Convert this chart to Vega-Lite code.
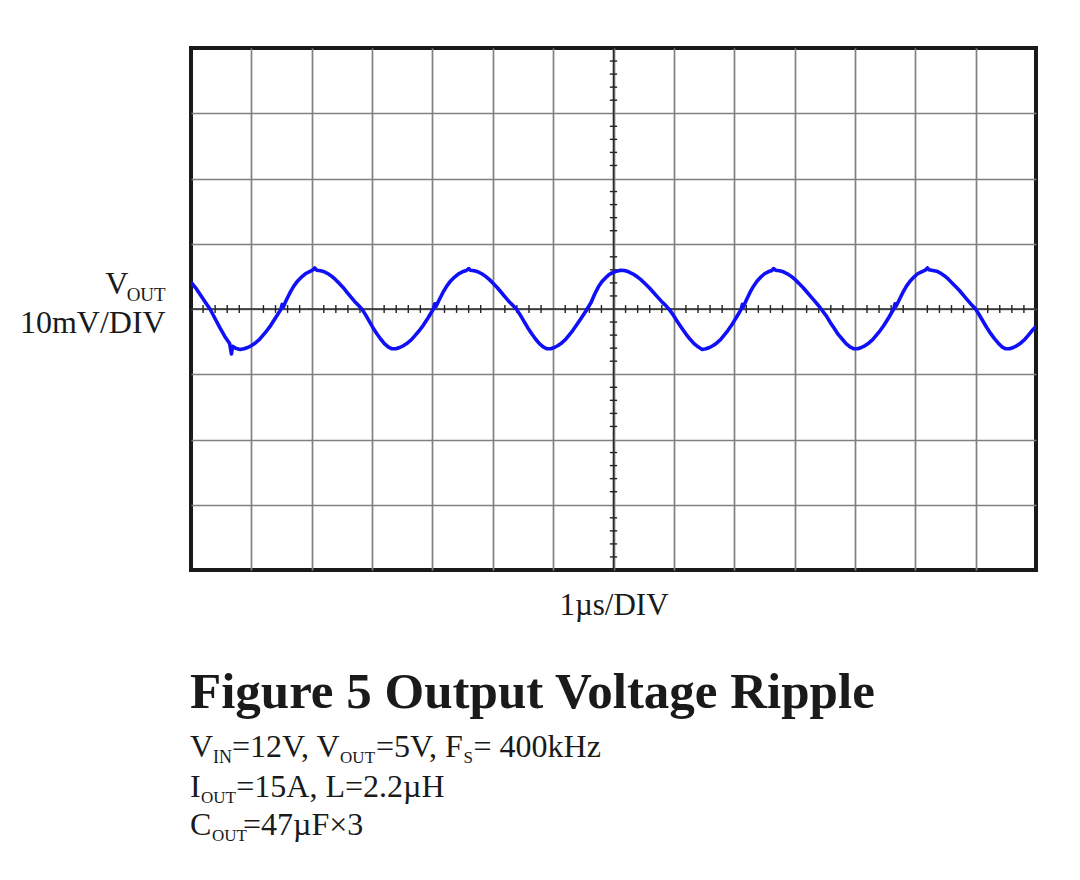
{
  "$schema": "https://vega.github.io/schema/vega-lite/v6.json",
  "width": 845,
  "height": 522,
  "autosize": {"type": "none"},
  "padding": {"left": 191, "top": 48, "right": 44, "bottom": 310},
  "background": "white",
  "config": {
    "view": {"stroke": "#1a1a1a", "strokeWidth": 4},
    "axis": {"grid": true, "gridColor": "#808080", "gridWidth": 1.7, "labels": false, "ticks": false, "domain": false}
  },
  "datasets": {
    "trace": [
      {"t":0.000,"v":4.1},{"t":0.080,"v":3.2},{"t":0.160,"v":2.1},{"t":0.240,"v":1.0},{"t":0.315,"v":0.0},{"t":0.400,"v":-1.5},{"t":0.480,"v":-2.9},{"t":0.560,"v":-4.2},{"t":0.640,"v":-5.3},{"t":0.670,"v":-6.9},{"t":0.690,"v":-5.7},{"t":0.740,"v":-6.0},{"t":0.813,"v":-6.2},
      {"t":0.877,"v":-6.1},{"t":0.940,"v":-5.9},{"t":1.004,"v":-5.6},{"t":1.067,"v":-5.2},{"t":1.131,"v":-4.7},{"t":1.195,"v":-4.0},{"t":1.258,"v":-3.3},{"t":1.322,"v":-2.5},{"t":1.404,"v":-1.3},{"t":1.487,"v":-0.1},{"t":1.510,"v":0.7},{"t":1.530,"v":0.3},{"t":1.576,"v":1.3},{"t":1.640,"v":2.5},{"t":1.703,"v":3.5},{"t":1.767,"v":4.3},{"t":1.831,"v":4.9},{"t":1.894,"v":5.4},{"t":1.958,"v":5.7},{"t":2.021,"v":6.0},{"t":2.050,"v":6.3},{"t":2.085,"v":5.95},
      {"t":2.147,"v":5.85},{"t":2.209,"v":5.7},{"t":2.271,"v":5.4},{"t":2.334,"v":5.0},{"t":2.396,"v":4.5},{"t":2.458,"v":3.9},{"t":2.520,"v":3.3},{"t":2.582,"v":2.6},{"t":2.644,"v":1.9},{"t":2.707,"v":1.2},{"t":2.769,"v":0.6},{"t":2.831,"v":0.0},{"t":2.893,"v":-0.9},{"t":2.955,"v":-1.9},{"t":3.017,"v":-2.9},{"t":3.079,"v":-3.8},{"t":3.142,"v":-4.6},{"t":3.204,"v":-5.3},{"t":3.266,"v":-5.8},{"t":3.328,"v":-6.1},
      {"t":3.393,"v":-6.1},{"t":3.458,"v":-5.9},{"t":3.523,"v":-5.6},{"t":3.588,"v":-5.2},{"t":3.653,"v":-4.7},{"t":3.718,"v":-4.0},{"t":3.783,"v":-3.3},{"t":3.848,"v":-2.5},{"t":3.932,"v":-1.3},{"t":4.016,"v":0.0},{"t":4.040,"v":0.8},{"t":4.060,"v":0.4},{"t":4.107,"v":1.3},{"t":4.172,"v":2.5},{"t":4.237,"v":3.5},{"t":4.302,"v":4.3},{"t":4.367,"v":4.9},{"t":4.432,"v":5.4},{"t":4.497,"v":5.7},{"t":4.562,"v":5.9},{"t":4.600,"v":6.2},{"t":4.627,"v":5.95},
      {"t":4.691,"v":5.85},{"t":4.754,"v":5.7},{"t":4.818,"v":5.4},{"t":4.881,"v":5.0},{"t":4.945,"v":4.5},{"t":5.009,"v":3.9},{"t":5.072,"v":3.3},{"t":5.136,"v":2.6},{"t":5.199,"v":1.9},{"t":5.263,"v":1.2},{"t":5.327,"v":0.6},{"t":5.390,"v":0.0},{"t":5.454,"v":-0.9},{"t":5.517,"v":-1.9},{"t":5.581,"v":-2.9},{"t":5.645,"v":-3.8},{"t":5.708,"v":-4.6},{"t":5.772,"v":-5.3},{"t":5.835,"v":-5.8},{"t":5.899,"v":-6.1},
      {"t":5.960,"v":-6.1},{"t":6.021,"v":-5.9},{"t":6.081,"v":-5.6},{"t":6.142,"v":-5.2},{"t":6.203,"v":-4.7},{"t":6.264,"v":-4.0},{"t":6.324,"v":-3.3},{"t":6.385,"v":-2.5},{"t":6.464,"v":-1.4},{"t":6.543,"v":-0.3},{"t":6.628,"v":1.0},{"t":6.689,"v":2.3},{"t":6.750,"v":3.4},{"t":6.810,"v":4.2},{"t":6.871,"v":4.8},{"t":6.932,"v":5.3},{"t":6.993,"v":5.6},{"t":7.053,"v":5.8},{"t":7.114,"v":5.95},
      {"t":7.182,"v":5.9},{"t":7.250,"v":5.7},{"t":7.317,"v":5.4},{"t":7.385,"v":5.0},{"t":7.453,"v":4.5},{"t":7.521,"v":3.9},{"t":7.588,"v":3.3},{"t":7.656,"v":2.6},{"t":7.724,"v":1.9},{"t":7.792,"v":1.2},{"t":7.859,"v":0.6},{"t":7.927,"v":-0.1},{"t":7.995,"v":-1.0},{"t":8.063,"v":-2.0},{"t":8.130,"v":-2.9},{"t":8.198,"v":-3.8},{"t":8.266,"v":-4.6},{"t":8.334,"v":-5.3},{"t":8.401,"v":-5.8},{"t":8.469,"v":-6.2},
      {"t":8.530,"v":-6.1},{"t":8.591,"v":-5.9},{"t":8.651,"v":-5.6},{"t":8.712,"v":-5.2},{"t":8.773,"v":-4.7},{"t":8.834,"v":-4.0},{"t":8.894,"v":-3.3},{"t":8.955,"v":-2.5},{"t":9.034,"v":-1.3},{"t":9.113,"v":-0.1},{"t":9.135,"v":0.7},{"t":9.150,"v":0.3},{"t":9.198,"v":1.3},{"t":9.259,"v":2.5},{"t":9.320,"v":3.5},{"t":9.380,"v":4.3},{"t":9.441,"v":4.9},{"t":9.502,"v":5.4},{"t":9.563,"v":5.7},{"t":9.623,"v":5.9},{"t":9.650,"v":6.2},{"t":9.685,"v":5.95},
      {"t":9.750,"v":5.85},{"t":9.815,"v":5.7},{"t":9.880,"v":5.4},{"t":9.945,"v":5.0},{"t":10.010,"v":4.5},{"t":10.074,"v":3.9},{"t":10.139,"v":3.3},{"t":10.204,"v":2.6},{"t":10.269,"v":1.9},{"t":10.334,"v":1.2},{"t":10.399,"v":0.5},{"t":10.464,"v":-0.3},{"t":10.529,"v":-1.1},{"t":10.594,"v":-2.1},{"t":10.659,"v":-3.0},{"t":10.723,"v":-3.9},{"t":10.788,"v":-4.6},{"t":10.853,"v":-5.3},{"t":10.918,"v":-5.8},{"t":10.983,"v":-6.1},
      {"t":11.045,"v":-6.1},{"t":11.107,"v":-5.9},{"t":11.170,"v":-5.6},{"t":11.232,"v":-5.2},{"t":11.294,"v":-4.7},{"t":11.356,"v":-4.0},{"t":11.418,"v":-3.3},{"t":11.481,"v":-2.5},{"t":11.561,"v":-1.3},{"t":11.642,"v":0.0},{"t":11.665,"v":0.8},{"t":11.680,"v":0.4},{"t":11.729,"v":1.3},{"t":11.792,"v":2.5},{"t":11.854,"v":3.5},{"t":11.916,"v":4.3},{"t":11.978,"v":4.9},{"t":12.040,"v":5.4},{"t":12.103,"v":5.7},{"t":12.165,"v":5.95},{"t":12.200,"v":6.3},{"t":12.227,"v":6.0},
      {"t":12.291,"v":5.9},{"t":12.354,"v":5.8},{"t":12.418,"v":5.5},{"t":12.481,"v":5.1},{"t":12.545,"v":4.6},{"t":12.609,"v":4.0},{"t":12.672,"v":3.4},{"t":12.736,"v":2.8},{"t":12.799,"v":2.1},{"t":12.863,"v":1.4},{"t":12.927,"v":0.7},{"t":12.990,"v":0.1},{"t":13.054,"v":-0.8},{"t":13.117,"v":-1.8},{"t":13.181,"v":-2.8},{"t":13.245,"v":-3.7},{"t":13.308,"v":-4.5},{"t":13.372,"v":-5.2},{"t":13.435,"v":-5.8},{"t":13.499,"v":-6.1},
      {"t":13.561,"v":-6.1},{"t":13.624,"v":-5.9},{"t":13.686,"v":-5.6},{"t":13.749,"v":-5.2},{"t":13.811,"v":-4.7},{"t":13.874,"v":-4.0},{"t":13.936,"v":-3.3},{"t":14.000,"v":-2.7}
    ],
    "xticks": [
      {"p":0.2},{"p":0.4},{"p":0.6},{"p":0.8},{"p":1.2},{"p":1.4},{"p":1.6},{"p":1.8},{"p":2.2},{"p":2.4},{"p":2.6},{"p":2.8},{"p":3.2},{"p":3.4},{"p":3.6},{"p":3.8},{"p":4.2},{"p":4.4},{"p":4.6},{"p":4.8},{"p":5.2},{"p":5.4},{"p":5.6},{"p":5.8},{"p":6.2},{"p":6.4},{"p":6.6},{"p":6.8},{"p":7.2},{"p":7.4},{"p":7.6},{"p":7.8},{"p":8.2},{"p":8.4},{"p":8.6},{"p":8.8},{"p":9.2},{"p":9.4},{"p":9.6},{"p":9.8},{"p":10.2},{"p":10.4},{"p":10.6},{"p":10.8},{"p":11.2},{"p":11.4},{"p":11.6},{"p":11.8},{"p":12.2},{"p":12.4},{"p":12.6},{"p":12.8},{"p":13.2},{"p":13.4},{"p":13.6},{"p":13.8}
    ],
    "yticks": [
      {"p":-38},{"p":-36},{"p":-34},{"p":-32},{"p":-28},{"p":-26},{"p":-24},{"p":-22},{"p":-18},{"p":-16},{"p":-14},{"p":-12},{"p":-8},{"p":-6},{"p":-4},{"p":-2},{"p":2},{"p":4},{"p":6},{"p":8},{"p":12},{"p":14},{"p":16},{"p":18},{"p":22},{"p":24},{"p":26},{"p":28},{"p":32},{"p":34},{"p":36},{"p":38}
    ]
  },
  "layer": [
    {
      "data": {"name": "xticks"},
      "mark": {"type": "rule", "color": "#222222", "strokeWidth": 1.4},
      "encoding": {
        "x": {"field": "p", "type": "quantitative", "scale": {"domain": [0, 14], "nice": false, "zero": false}, "axis": {"values": [1,2,3,4,5,6,7,8,9,10,11,12,13], "title": null}},
        "y": {"datum": -0.6, "type": "quantitative", "scale": {"domain": [-40, 40], "nice": false, "zero": false}, "axis": {"values": [-30,-20,-10,0,10,20,30], "title": null}},
        "y2": {"datum": 0.6}
      }
    },
    {
      "data": {"name": "yticks"},
      "mark": {"type": "rule", "color": "#222222", "strokeWidth": 1.4},
      "encoding": {
        "y": {"field": "p", "type": "quantitative", "axis": {"values": [-30,-20,-10,0,10,20,30], "title": null}},
        "x": {"datum": 6.94, "type": "quantitative", "axis": {"values": [1,2,3,4,5,6,7,8,9,10,11,12,13], "title": null}},
        "x2": {"datum": 7.06}
      }
    },
    {
      "data": {"values": [{}]},
      "mark": {"type": "rule", "color": "#2a2a2a", "strokeWidth": 1.6},
      "encoding": {"x": {"datum": 7, "type": "quantitative", "axis": {"values": [1,2,3,4,5,6,7,8,9,10,11,12,13], "title": null}}}
    },
    {
      "data": {"values": [{}]},
      "mark": {"type": "rule", "color": "#2a2a2a", "strokeWidth": 1.6},
      "encoding": {"y": {"datum": 0, "type": "quantitative", "axis": {"values": [-30,-20,-10,0,10,20,30], "title": null}}}
    },
    {
      "data": {"name": "trace"},
      "mark": {"type": "line", "color": "#1010f8", "strokeWidth": 3.6, "strokeJoin": "round", "clip": true},
      "encoding": {
        "x": {"field": "t", "type": "quantitative", "axis": {"values": [1,2,3,4,5,6,7,8,9,10,11,12,13], "title": null}},
        "y": {"field": "v", "type": "quantitative", "axis": {"values": [-30,-20,-10,0,10,20,30], "title": null}}
      }
    },
    {
      "data": {"values": [{}]},
      "mark": {"type": "text", "align": "right", "baseline": "alphabetic", "font": "Liberation Serif", "fontSize": 32, "color": "#1a1a1a"},
      "encoding": {"x": {"datum": -1.039, "type": "quantitative", "axis": {"values": [1,2,3,4,5,6,7,8,9,10,11,12,13], "title": null}}, "y": {"datum": 2.25, "type": "quantitative", "axis": {"values": [-30,-20,-10,0,10,20,30], "title": null}}, "text": {"value": "V"}}
    },
    {
      "data": {"values": [{}]},
      "mark": {"type": "text", "align": "right", "baseline": "alphabetic", "font": "Liberation Serif", "fontSize": 19, "color": "#1a1a1a"},
      "encoding": {"x": {"datum": -0.419, "type": "quantitative", "axis": {"values": [1,2,3,4,5,6,7,8,9,10,11,12,13], "title": null}}, "y": {"datum": 1.23, "type": "quantitative", "axis": {"values": [-30,-20,-10,0,10,20,30], "title": null}}, "text": {"value": "OUT"}}
    },
    {
      "data": {"values": [{}]},
      "mark": {"type": "text", "align": "right", "baseline": "alphabetic", "font": "Liberation Serif", "fontSize": 32, "color": "#1a1a1a"},
      "encoding": {"x": {"datum": -0.419, "type": "quantitative", "axis": {"values": [1,2,3,4,5,6,7,8,9,10,11,12,13], "title": null}}, "y": {"datum": -3.72, "type": "quantitative", "axis": {"values": [-30,-20,-10,0,10,20,30], "title": null}}, "text": {"value": "10mV/DIV"}}
    },
    {
      "data": {"values": [{}]},
      "mark": {"type": "text", "align": "center", "baseline": "alphabetic", "font": "Liberation Serif", "fontSize": 31, "color": "#1a1a1a"},
      "encoding": {"x": {"datum": 7.008, "type": "quantitative", "axis": {"values": [1,2,3,4,5,6,7,8,9,10,11,12,13], "title": null}}, "y": {"datum": -46.9, "type": "quantitative", "axis": {"values": [-30,-20,-10,0,10,20,30], "title": null}}, "text": {"value": "1µs/DIV"}}
    },
    {
      "data": {"values": [{}]},
      "mark": {"type": "text", "align": "left", "baseline": "alphabetic", "font": "Liberation Serif", "fontSize": 51, "fontWeight": "bold", "color": "#1a1a1a"},
      "encoding": {"x": {"datum": -0.017, "type": "quantitative", "axis": {"values": [1,2,3,4,5,6,7,8,9,10,11,12,13], "title": null}}, "y": {"datum": -61.2, "type": "quantitative", "axis": {"values": [-30,-20,-10,0,10,20,30], "title": null}}, "text": {"value": "Figure 5 Output Voltage Ripple"}}
    },
    {
      "data": {"values": [{}]},
      "mark": {"type": "text", "align": "left", "baseline": "alphabetic", "font": "Liberation Serif", "fontSize": 32, "color": "#1a1a1a"},
      "encoding": {"x": {"datum": -0.017, "type": "quantitative", "axis": {"values": [1,2,3,4,5,6,7,8,9,10,11,12,13], "title": null}}, "y": {"datum": -68.61, "type": "quantitative", "axis": {"values": [-30,-20,-10,0,10,20,30], "title": null}}, "text": {"value": "V"}}
    },
    {
      "data": {"values": [{}]},
      "mark": {"type": "text", "align": "left", "baseline": "alphabetic", "font": "Liberation Serif", "fontSize": 18, "color": "#1a1a1a"},
      "encoding": {"x": {"datum": 0.3645, "type": "quantitative", "axis": {"values": [1,2,3,4,5,6,7,8,9,10,11,12,13], "title": null}}, "y": {"datum": -69.53, "type": "quantitative", "axis": {"values": [-30,-20,-10,0,10,20,30], "title": null}}, "text": {"value": "IN"}}
    },
    {
      "data": {"values": [{}]},
      "mark": {"type": "text", "align": "left", "baseline": "alphabetic", "font": "Liberation Serif", "fontSize": 32, "color": "#1a1a1a"},
      "encoding": {"x": {"datum": 0.6793, "type": "quantitative", "axis": {"values": [1,2,3,4,5,6,7,8,9,10,11,12,13], "title": null}}, "y": {"datum": -68.61, "type": "quantitative", "axis": {"values": [-30,-20,-10,0,10,20,30], "title": null}}, "text": {"value": "=12V, V"}}
    },
    {
      "data": {"values": [{}]},
      "mark": {"type": "text", "align": "left", "baseline": "alphabetic", "font": "Liberation Serif", "fontSize": 17, "color": "#1a1a1a"},
      "encoding": {"x": {"datum": 2.47, "type": "quantitative", "axis": {"values": [1,2,3,4,5,6,7,8,9,10,11,12,13], "title": null}}, "y": {"datum": -69.53, "type": "quantitative", "axis": {"values": [-30,-20,-10,0,10,20,30], "title": null}}, "text": {"value": "OUT"}}
    },
    {
      "data": {"values": [{}]},
      "mark": {"type": "text", "align": "left", "baseline": "alphabetic", "font": "Liberation Serif", "fontSize": 32, "color": "#1a1a1a"},
      "encoding": {"x": {"datum": 3.065, "type": "quantitative", "axis": {"values": [1,2,3,4,5,6,7,8,9,10,11,12,13], "title": null}}, "y": {"datum": -68.61, "type": "quantitative", "axis": {"values": [-30,-20,-10,0,10,20,30], "title": null}}, "text": {"value": "=5V, F"}}
    },
    {
      "data": {"values": [{}]},
      "mark": {"type": "text", "align": "left", "baseline": "alphabetic", "font": "Liberation Serif", "fontSize": 17, "color": "#1a1a1a"},
      "encoding": {"x": {"datum": 4.515, "type": "quantitative", "axis": {"values": [1,2,3,4,5,6,7,8,9,10,11,12,13], "title": null}}, "y": {"datum": -69.53, "type": "quantitative", "axis": {"values": [-30,-20,-10,0,10,20,30], "title": null}}, "text": {"value": "S"}}
    },
    {
      "data": {"values": [{}]},
      "mark": {"type": "text", "align": "left", "baseline": "alphabetic", "font": "Liberation Serif", "fontSize": 32, "color": "#1a1a1a"},
      "encoding": {"x": {"datum": 4.68, "type": "quantitative", "axis": {"values": [1,2,3,4,5,6,7,8,9,10,11,12,13], "title": null}}, "y": {"datum": -68.61, "type": "quantitative", "axis": {"values": [-30,-20,-10,0,10,20,30], "title": null}}, "text": {"value": "= 400kHz"}}
    },
    {
      "data": {"values": [{}]},
      "mark": {"type": "text", "align": "left", "baseline": "alphabetic", "font": "Liberation Serif", "fontSize": 32, "color": "#1a1a1a"},
      "encoding": {"x": {"datum": -0.017, "type": "quantitative", "axis": {"values": [1,2,3,4,5,6,7,8,9,10,11,12,13], "title": null}}, "y": {"datum": -74.74, "type": "quantitative", "axis": {"values": [-30,-20,-10,0,10,20,30], "title": null}}, "text": {"value": "I"}}
    },
    {
      "data": {"values": [{}]},
      "mark": {"type": "text", "align": "left", "baseline": "alphabetic", "font": "Liberation Serif", "fontSize": 17, "color": "#1a1a1a"},
      "encoding": {"x": {"datum": 0.165, "type": "quantitative", "axis": {"values": [1,2,3,4,5,6,7,8,9,10,11,12,13], "title": null}}, "y": {"datum": -75.66, "type": "quantitative", "axis": {"values": [-30,-20,-10,0,10,20,30], "title": null}}, "text": {"value": "OUT"}}
    },
    {
      "data": {"values": [{}]},
      "mark": {"type": "text", "align": "left", "baseline": "alphabetic", "font": "Liberation Serif", "fontSize": 32, "color": "#1a1a1a"},
      "encoding": {"x": {"datum": 0.75, "type": "quantitative", "axis": {"values": [1,2,3,4,5,6,7,8,9,10,11,12,13], "title": null}}, "y": {"datum": -74.74, "type": "quantitative", "axis": {"values": [-30,-20,-10,0,10,20,30], "title": null}}, "text": {"value": "=15A, L=2.2µH"}}
    },
    {
      "data": {"values": [{}]},
      "mark": {"type": "text", "align": "left", "baseline": "alphabetic", "font": "Liberation Serif", "fontSize": 32, "color": "#1a1a1a"},
      "encoding": {"x": {"datum": -0.017, "type": "quantitative", "axis": {"values": [1,2,3,4,5,6,7,8,9,10,11,12,13], "title": null}}, "y": {"datum": -80.61, "type": "quantitative", "axis": {"values": [-30,-20,-10,0,10,20,30], "title": null}}, "text": {"value": "C"}}
    },
    {
      "data": {"values": [{}]},
      "mark": {"type": "text", "align": "left", "baseline": "alphabetic", "font": "Liberation Serif", "fontSize": 17, "color": "#1a1a1a"},
      "encoding": {"x": {"datum": 0.3479, "type": "quantitative", "axis": {"values": [1,2,3,4,5,6,7,8,9,10,11,12,13], "title": null}}, "y": {"datum": -81.53, "type": "quantitative", "axis": {"values": [-30,-20,-10,0,10,20,30], "title": null}}, "text": {"value": "OUT"}}
    },
    {
      "data": {"values": [{}]},
      "mark": {"type": "text", "align": "left", "baseline": "alphabetic", "font": "Liberation Serif", "fontSize": 32, "color": "#1a1a1a"},
      "encoding": {"x": {"datum": 0.8615, "type": "quantitative", "axis": {"values": [1,2,3,4,5,6,7,8,9,10,11,12,13], "title": null}}, "y": {"datum": -80.61, "type": "quantitative", "axis": {"values": [-30,-20,-10,0,10,20,30], "title": null}}, "text": {"value": "=47µF×3"}}
    }
  ]
}
